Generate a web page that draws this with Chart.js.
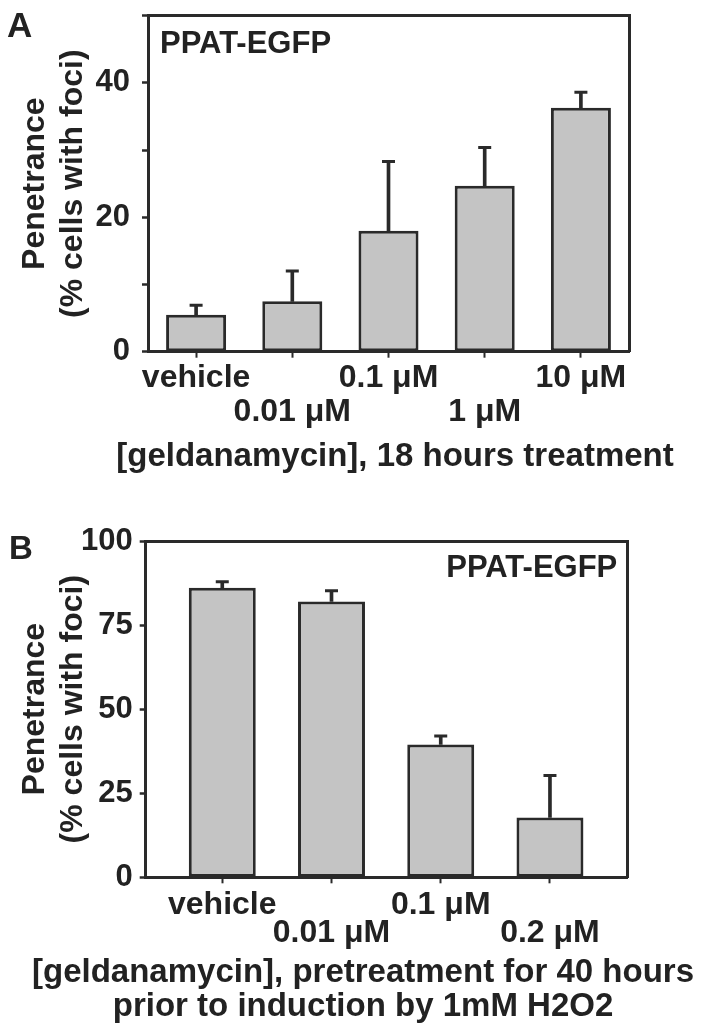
<!DOCTYPE html>
<html><head><meta charset="utf-8">
<script src="https://cdn.jsdelivr.net/npm/chart.js@4.4.1/dist/chart.umd.min.js"></script>
<style>
html,body{margin:0;padding:0;background:#fff;width:702px;height:1034px;overflow:hidden}
#ca{position:absolute;left:0;top:0}
#cb{position:absolute;left:0;top:490px}
</style></head><body>
<canvas id="ca" width="702" height="490"></canvas>
<canvas id="cb" width="702" height="544"></canvas>
<script>
// ---- Panel A data ----
const categoriesA = ['vehicle', '0.01 μM', '0.1 μM', '1 μM', '10 μM'];
const valuesA = [5.5, 7.5, 18.0, 24.7, 36.3];
const errorsA = [1.4, 4.5, 10.3, 5.7, 2.3];
const yLabelsA = [0, 20, 40];
// ---- Panel B data ----
const categoriesB = ['vehicle', '0.01 μM', '0.1 μM', '0.2 μM'];
const valuesB = [86.1, 82.0, 39.5, 17.8];
const errorsB = [1.8, 3.2, 2.5, 12.5];
const yLabelsB = [0, 25, 50, 75, 100];

const FAM = "'Liberation Sans', Arial, Helvetica, sans-serif";
const DARK = '#2a2a2a';
const FILL = '#c4c4c4';
Chart.defaults.color = '#222';
Chart.defaults.font.family = FAM;

function zeroPad(s) { s.paddingLeft = 0; s.paddingRight = 0; s.paddingTop = 0; s.paddingBottom = 0; }

function textPlugin(items) {
  return {
    id: 'panelText',
    afterDraw(chart) {
      const ctx = chart.ctx, a = chart.chartArea;
      ctx.save();
      ctx.fillStyle = '#222';
      ctx.textBaseline = 'alphabetic';
      for (const it of items) {
        ctx.font = 'bold ' + it.size + 'px ' + FAM;
        ctx.textAlign = it.align;
        ctx.fillText(it.text, it.x(a), it.y(a));
      }
      ctx.restore();
    }
  };
}

function makePanel(canvasId, p) {
  return new Chart(document.getElementById(canvasId), {
    data: {
      datasets: [
        {
          type: 'line', showLine: false, order: 0,
          data: p.values.map((v, i) => ({ x: i, y: v + p.errors[i] })),
          pointStyle: 'line', pointRadius: 6.5, pointBorderWidth: 3,
          pointBorderColor: DARK, pointBackgroundColor: DARK
        },
        {
          type: 'bar', order: 1, grouped: false,
          data: p.values.map((v, i) => ({ x: i, y: [v, v + p.errors[i]] })),
          backgroundColor: DARK, borderWidth: 0, barThickness: 3
        },
        {
          type: 'bar', order: 2, grouped: false,
          data: p.values.map((v, i) => ({ x: i, y: v })),
          backgroundColor: FILL, borderColor: DARK, borderWidth: 3, borderSkipped: false,
          barPercentage: p.barPct, categoryPercentage: 1
        }
      ]
    },
    options: {
      responsive: false, animation: false, events: [],
      layout: { padding: p.layoutPad },
      plugins: {
        legend: { display: false }, tooltip: { enabled: false },
        title: {
          display: true, position: 'bottom', align: 'center', text: p.xTitle, color: '#222',
          font: { size: 33, weight: 'bold', lineHeight: p.xTitleLH },
          padding: { top: 0, bottom: p.xTitlePad }
        }
      },
      scales: {
        x: {
          type: 'linear', position: 'bottom', min: p.xMin, max: p.xMax, offset: false,
          afterBuildTicks: s => { s.ticks = p.categories.map((c, i) => ({ value: i })); },
          afterFit: s => { s.height = p.xAxisH; zeroPad(s); },
          ticks: {
            autoSkip: false, maxRotation: 0, minRotation: 0, padding: p.xTickPad,
            color: '#222',
            font: { size: 32, weight: 'bold', lineHeight: p.xLineH },
            callback: (v) => { const i = Math.round(v); const l = p.categories[i]; return i % 2 === 0 ? [l, ''] : ['', l]; }
          },
          grid: { display: true, offset: false, drawOnChartArea: false, drawTicks: true, tickLength: 6, tickWidth: 2, tickColor: DARK },
          border: { display: true, width: 3, color: DARK }
        },
        y: {
          type: 'linear', position: 'left', min: 0, max: p.yMax,
          afterFit: s => { s.width = p.yAxisW; zeroPad(s); },
          ticks: {
            stepSize: p.yStep, padding: p.yTickPad, color: '#222',
            font: { size: 31, weight: 'bold' },
            callback: (v) => p.yLabels.includes(v) ? String(v) : ''
          },
          grid: { display: true, drawOnChartArea: false, drawTicks: true, tickLength: 6, tickWidth: 2.5, tickColor: DARK },
          border: { display: true, width: 3, color: DARK },
          title: {
            display: true, text: ['Penetrance', '(% cells with foci)'], color: '#222',
            font: { size: 32, weight: 'bold', lineHeight: 1.2 },
            padding: { top: p.yTitlePad, bottom: 0 }
          }
        },
        x2: {
          type: 'linear', position: 'top', display: true, offset: false,
          afterFit: s => { s.height = 0; zeroPad(s); },
          ticks: { display: false }, grid: { display: false },
          border: { display: true, width: 3, color: DARK }
        },
        y2: {
          type: 'linear', position: 'right', display: true,
          afterFit: s => { s.width = p.rightW; zeroPad(s); },
          ticks: { display: false }, grid: { display: false },
          border: { display: true, width: 3, color: DARK }
        }
      }
    },
    plugins: [textPlugin(p.texts)]
  });
}

makePanel('ca', {
  categories: categoriesA, values: valuesA, errors: errorsA, yLabels: yLabelsA,
  yMax: 50, yStep: 10, xMin: -0.5, xMax: 4.5, barPct: 0.624,
  layoutPad: { left: 88, right: 0, top: 15.7, bottom: 0 },
  xAxisH: 85.2, yAxisW: 60, rightW: 73, xTickPad: 3.9, xLineH: 1.044, yTickPad: 12,
  yTitlePad: -72.2,
  xTitle: '[geldanamycin], 18 hours treatment', xTitleLH: 1.2, xTitlePad: 13.5,
  texts: [
    { text: 'A', size: 35, align: 'left', x: a => 7, y: a => 37 },
    { text: 'PPAT-EGFP', size: 31, align: 'left', x: a => a.left + 12, y: a => a.top + 37.6 }
  ]
});

makePanel('cb', {
  categories: categoriesB, values: valuesB, errors: errorsB, yLabels: yLabelsB,
  yMax: 100, yStep: 25, xMin: -0.701, xMax: 3.708, barPct: 0.613,
  layoutPad: { left: 24, right: 0, top: 51, bottom: 0 },
  xAxisH: 79.3, yAxisW: 121.7, rightW: 74.7, xTickPad: 7.5, xLineH: 0.884, yTickPad: 7,
  yTitlePad: -8.2,
  xTitle: ['[geldanamycin], pretreatment for 40 hours', 'prior to induction by 1mM H2O2'],
  xTitleLH: 1.012, xTitlePad: 10.6,
  texts: [
    { text: 'B', size: 33, align: 'left', x: a => 9, y: a => 69 },
    { text: 'PPAT-EGFP', size: 31, align: 'right', x: a => a.right - 10, y: a => a.top + 36 }
  ]
});
</script>
</body></html>
